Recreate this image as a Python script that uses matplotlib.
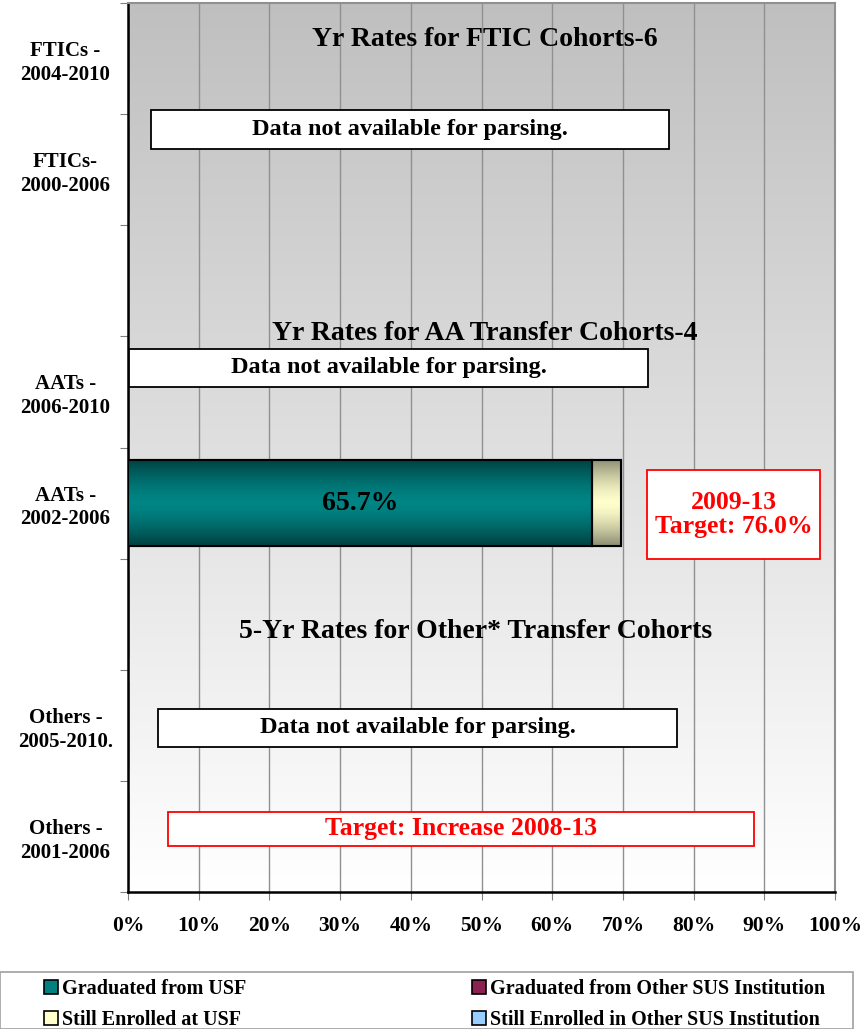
import numpy as np
import matplotlib
matplotlib.use("Agg")
import matplotlib.pyplot as plt
from matplotlib.patches import Patch, Rectangle

plt.rcParams['font.family'] = ['Liberation Serif', 'DejaVu Serif']
plt.rcParams['font.weight'] = 'bold'

# ---- data ----
categories = ["FTICs -\n2004-2010", "FTICs-\n2000-2006", "",
              "AATs -\n2006-2010", "AATs -\n2002-2006", "",
              "Others -\n2005-2010.", "Others -\n2001-2006"]
grad_usf = [0, 0, 0, 0, 65.7, 0, 0, 0]
grad_other = [0, 0, 0, 0, 0.0, 0, 0, 0]
enrolled_usf = [0, 0, 0, 0, 4.0, 0, 0, 0]
enrolled_other = [0, 0, 0, 0, 0.0, 0, 0, 0]
series_names = ["Graduated from USF", "Graduated from Other SUS Institution",
                "Still Enrolled at USF", "Still Enrolled in Other SUS Institution"]
series_colors = ["#008080", "#8B2252", "#FFFFCC", "#99CCFF"]
xticks = [0, 10, 20, 30, 40, 50, 60, 70, 80, 90, 100]
xtick_labels = [f"{v}%" for v in xticks]
section_titles = ["Yr Rates for FTIC Cohorts-6", "Yr Rates for AA Transfer Cohorts-4",
                  "5-Yr Rates for Other* Transfer Cohorts"]

W, H = 865, 1029
fig = plt.figure(figsize=(W/100, H/100), dpi=100)
ax = fig.add_axes([128/W, 1-892/H, (835-128)/W, (892-3)/H])

n = len(categories)
ax.set_xlim(0, 100)
ax.set_ylim(n, 0)

# background gradient
grad = np.linspace(0.75, 1.0, 256).reshape(-1, 1)
ax.imshow(np.dstack([grad]*3), extent=[0, 100, n, 0], aspect='auto', zorder=0)

ax.set_xticks(xticks)
ax.set_xticklabels(xtick_labels, fontsize=15.5, fontweight='bold')
ax.grid(axis='x', color='#909090', linewidth=1.0, zorder=1)
ax.set_axisbelow(True)

ax.set_yticks(np.arange(0, n+1))
ax.set_yticklabels([])
ax.set_yticks(np.arange(n) + 0.5, minor=True)
ax.set_yticklabels(categories, minor=True, fontsize=15, fontweight='bold',
                   linespacing=1.25, ha='center')
ax.tick_params(axis='y', which='minor', length=0, pad=45)
ax.tick_params(axis='y', which='major', length=6, color='#808080')
ax.tick_params(axis='x', length=6, color='#808080', pad=11)

for s in ['left', 'bottom']:
    ax.spines[s].set_linewidth(1.8)
    ax.spines[s].set_color('black')
for s in ['top', 'right']:
    ax.spines[s].set_linewidth(1.5)
    ax.spines[s].set_color('#909090')

y = np.arange(n) + 0.5
h = 0.78
left = np.zeros(n)
gcmaps = {
    0: [(0.0, 0.25, 0.25), (0.0, 0.52, 0.52), (0.0, 0.25, 0.25)],
    2: [(0.55, 0.55, 0.45), (1.0, 1.0, 0.8), (0.55, 0.55, 0.45)],
}
for i, (vals, col) in enumerate(zip([grad_usf, grad_other, enrolled_usf, enrolled_other], series_colors)):
    bars = ax.barh(y, vals, left=left, height=h, color=col, edgecolor='black', linewidth=1.5, zorder=3)
    for b, v in zip(bars, vals):
        if v > 0 and i in gcmaps:
            c0, c1, c2 = [np.array(c) for c in gcmaps[i]]
            t = np.linspace(-1, 1, 100)
            w = np.abs(t)[:, None] ** 1.5
            img = (1-w)*c1 + w*c0
            x0, y0 = b.get_x(), b.get_y()
            im = ax.imshow(img.reshape(100, 1, 3), extent=[x0, x0+b.get_width(), y0+b.get_height(), y0],
                           aspect='auto', zorder=3.5)
            im.set_clip_path(b)
            ax.add_patch(Rectangle((x0, y0), b.get_width(), b.get_height(), fill=False,
                                   edgecolor='black', linewidth=1.5, zorder=4))
    left = left + np.array(vals)

# value label
ax.text(grad_usf[4]/2, y[4], f"{grad_usf[4]:.1f}%", ha='center', va='center',
        fontsize=20, fontweight='bold', color='black', zorder=5)

# section titles
ax.text(50.5, 0.33, section_titles[0], ha='center', va='center', fontsize=20, fontweight='bold', zorder=5)
ax.text(50.5, 2.97, section_titles[1], ha='center', va='center', fontsize=20, fontweight='bold', zorder=5)
ax.text(49.2, 5.66, section_titles[2], ha='center', va='center', fontsize=20, fontweight='bold', zorder=5)

# text boxes
def tbox(x0, x1, y0, y1, text, color='black', fs=17.5, ec='black'):
    ax.add_patch(Rectangle((x0, y0), x1-x0, y1-y0, facecolor='white', edgecolor=ec, linewidth=1.3, zorder=5))
    ax.text((x0+x1)/2, (y0+y1)/2, text, ha='center', va='center', fontsize=fs, fontweight='bold',
            color=color, zorder=6, linespacing=1.1)

px = lambda xp: (xp-128)/707*100
py = lambda yp: (yp-3)/889*8
tbox(px(151), px(669), py(110), py(149), "Data not available for parsing.")
tbox(px(129), px(648), py(349), py(387), "Data not available for parsing.")
tbox(px(158), px(677), py(709), py(747), "Data not available for parsing.")
tbox(px(168), px(754), py(812), py(846), "Target: Increase 2008-13", color='red', ec='red', fs=18.5)
tbox(px(647), px(820), py(470), py(559), "2009-13\nTarget: 76.0%", color='red', ec='red', fs=18.5)

# legend frame
fig.patches.append(Rectangle((0, 0), 853/W, 1-972/H, transform=fig.transFigure,
                             facecolor='white', edgecolor='#a0a0a0', linewidth=1.2, zorder=0))
handles = [Patch(facecolor=c, edgecolor='black', linewidth=1.2) for c in series_colors]
for col_idx, xpos in enumerate([40/W, 468/W]):
    idx = [col_idx, col_idx + 2]
    leg = fig.legend([handles[i] for i in idx], [series_names[i] for i in idx], ncol=1,
                     loc='upper left', bbox_to_anchor=(xpos, 1-975/H),
                     fontsize=14.5, frameon=False,
                     handlelength=0.7, handleheight=0.7, handletextpad=0.2, borderaxespad=0,
                     labelspacing=0.55, borderpad=0.2)
    for t in leg.get_texts():
        t.set_fontweight('bold')

fig.savefig("out.png", dpi=100)
